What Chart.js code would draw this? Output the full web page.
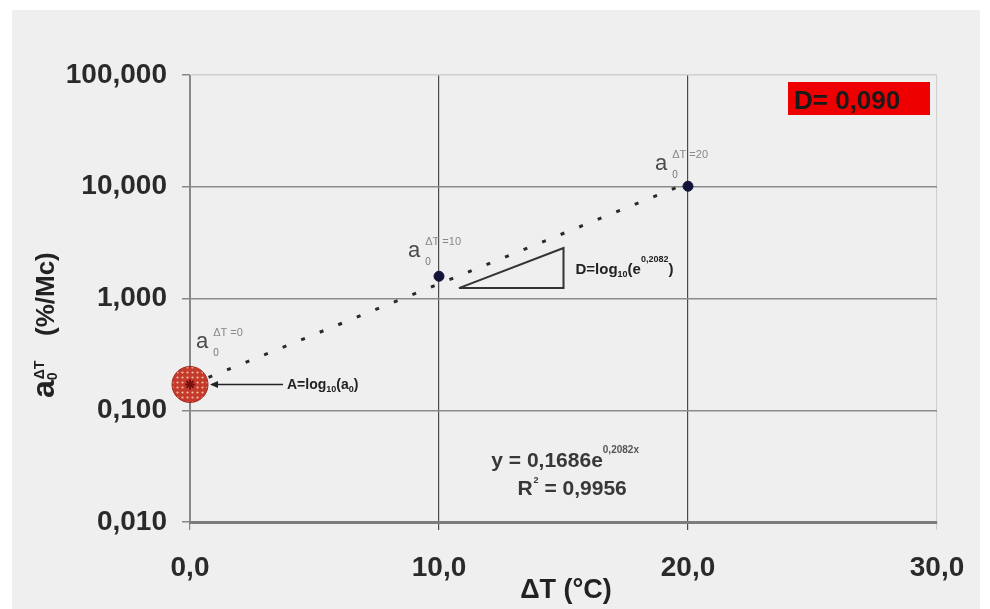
<!DOCTYPE html>
<html>
<head>
<meta charset="utf-8">
<script src="https://cdn.jsdelivr.net/npm/chart.js@4"></script>
<style>
  html, body { margin: 0; padding: 0; background: #fff; }
</style>
</head>
<body>
<canvas id="chart" width="990" height="609"></canvas>
<script>
// data
const deltaT = [0, 10, 20];
const a0Values = [0.17, 1.58, 10.1];
const a0Names = ['0', '10', '20'];
const trendX = [0, 20];
const trendY = [0.1686, 10.84];
const triangleX = [10.8, 15, 15, 10.8];
const triangleY = [1.24, 2.83, 1.24, 1.24];
const xTicks = [0, 10, 20, 30];
const yTicks = [0.01, 0.1, 1, 10, 100];
const eqCoef = '0,1686';
const eqExp = '0,2082';
const rSquared = '0,9956';
const dValue = '0,090';

const FONT = '"Liberation Sans", Arial, sans-serif';

// red dotted fill of the big marker
function makePattern() {
    const c = document.createElement('canvas');
    c.width = 5; c.height = 5;
    const g = c.getContext('2d');
    g.fillStyle = '#c43a2c';
    g.fillRect(0, 0, 5, 5);
    g.fillStyle = '#f0c0a0';
    g.beginPath();
    g.arc(2.5, 2.5, 1.1, 0, Math.PI * 2);
    g.fill();
    return g.createPattern(c, 'repeat');
}

function txt(ctx, s, x, y, font, color, align) {
    ctx.font = font;
    ctx.fillStyle = color;
    ctx.textAlign = align || 'left';
    ctx.textBaseline = 'alphabetic';
    ctx.fillText(s, x, y);
    return ctx.measureText(s).width;
}

const backgroundPlugin = {
    id: 'bg',
    beforeDraw(chart) {
        const ctx = chart.ctx;
        ctx.save();
        ctx.fillStyle = '#ffffff';
        ctx.fillRect(0, 0, chart.width, chart.height);
        ctx.fillStyle = '#efefef';
        ctx.fillRect(12, 10, 968, 599);
        ctx.restore();
    }
};

const notesPlugin = {
    id: 'notes',
    afterDraw(chart) {
        const ctx = chart.ctx;
        const xs = chart.scales.x, ys = chart.scales.y;
        const area = chart.chartArea;
        ctx.save();

        // a0 labels next to each point
        const offs = [[6, -36], [-31, -19], [-33, -16]];
        deltaT.forEach((t, i) => {
            const px = xs.getPixelForValue(t) + offs[i][0];
            const py = ys.getPixelForValue(a0Values[i]) + offs[i][1];
            const w = txt(ctx, 'a', px, py, '22px "Liberation Sans Narrow", ' + FONT, '#4a4a4a');
            txt(ctx, '0', px + w + 5, py + 8, '10px ' + FONT, '#777');
            txt(ctx, '\u0394T =' + a0Names[i], px + w + 5, py - 12, '11px ' + FONT, '#888');
        });

        // A = log10(a0) with arrow
        const p0x = xs.getPixelForValue(deltaT[0]);
        const p0y = ys.getPixelForValue(a0Values[0]);
        const lx = p0x + 97, ly = p0y + 5;
        ctx.strokeStyle = '#222';
        ctx.lineWidth = 1.5;
        ctx.beginPath();
        ctx.moveTo(lx - 4, p0y);
        ctx.lineTo(p0x + 22, p0y);
        ctx.stroke();
        ctx.fillStyle = '#222';
        ctx.beginPath();
        ctx.moveTo(p0x + 20, p0y);
        ctx.lineTo(p0x + 28, p0y - 3.5);
        ctx.lineTo(p0x + 28, p0y + 3.5);
        ctx.closePath();
        ctx.fill();
        let w = txt(ctx, 'A=log', lx, ly, 'bold 14px ' + FONT, '#222');
        w += txt(ctx, '10', lx + w, ly + 3, 'bold 9px ' + FONT, '#222');
        w += txt(ctx, '(a', lx + w, ly, 'bold 14px ' + FONT, '#222');
        w += txt(ctx, '0', lx + w, ly + 3, 'bold 9px ' + FONT, '#222');
        txt(ctx, ')', lx + w, ly, 'bold 14px ' + FONT, '#222');

        // D = log10(e^0.2082) next to the triangle
        const tx = xs.getPixelForValue(triangleX[1]) + 12;
        const ty = ys.getPixelForValue(triangleY[1]) + 26;
        w = txt(ctx, 'D=log', tx, ty, 'bold 15px ' + FONT, '#222');
        w += txt(ctx, '10', tx + w, ty + 3, 'bold 9px ' + FONT, '#222');
        w += txt(ctx, '(e', tx + w, ty, 'bold 15px ' + FONT, '#222');
        w += txt(ctx, eqExp, tx + w, ty - 12, 'bold 9px ' + FONT, '#222');
        txt(ctx, ')', tx + w, ty, 'bold 15px ' + FONT, '#222');

        // regression equation
        const ex = xs.getPixelForValue(12.1), ey = ys.getPixelForValue(0.0357) + 7;
        w = txt(ctx, 'y = ' + eqCoef + 'e', ex, ey, 'bold 21px ' + FONT, '#383838');
        txt(ctx, eqExp + 'x', ex + w, ey - 14, 'bold 10px ' + FONT, '#555');
        const rx = xs.getPixelForValue(13.15), ry = ey + 28;
        w = txt(ctx, 'R', rx, ry, 'bold 21px ' + FONT, '#383838');
        txt(ctx, '2', rx + w + 1, ry - 12, 'bold 9px ' + FONT, '#383838');
        txt(ctx, ' = ' + rSquared, rx + w + 6, ry, 'bold 21px ' + FONT, '#383838');

        // red D box
        ctx.fillStyle = '#ee0000';
        ctx.fillRect(area.right - 149, area.top + 7, 142, 33);
        txt(ctx, 'D= ' + dValue, area.right - 143, area.top + 34, 'bold 26px ' + FONT, '#1a1a1a');

        // axis titles
        txt(ctx, '\u0394T (\u00b0C)', 566, 598, 'bold 27px ' + FONT, '#222', 'center');
        ctx.translate(54, 398);
        ctx.rotate(-Math.PI / 2);
        w = txt(ctx, 'a', 0, 0, 'bold 32px ' + FONT, '#222');
        txt(ctx, '0', w, 3, 'bold 14px ' + FONT, '#222');
        txt(ctx, '\u0394T', w + 1, -10, 'bold 14px ' + FONT, '#222');
        txt(ctx, '(%/Mc)', 62, 0, 'bold 26px ' + FONT, '#222');

        ctx.restore();
    }
};

const ctx = document.getElementById('chart').getContext('2d');
const dotPattern = makePattern();

new Chart(ctx, {
    type: 'scatter',
    data: {
        datasets: [
            {
                label: 'trend',
                data: trendX.map((x, i) => ({ x, y: trendY[i] })),
                showLine: true,
                borderColor: '#2a2a2a',
                borderWidth: 3,
                borderDash: [4, 16],
                pointRadius: 0,
                order: 4
            },
            {
                label: 'triangle',
                data: triangleX.map((x, i) => ({ x, y: triangleY[i] })),
                showLine: true,
                borderColor: '#333',
                borderWidth: 2,
                pointRadius: 0,
                order: 3
            },
            {
                label: 'a0',
                data: deltaT.slice(1).map((x, i) => ({ x, y: a0Values[i + 1] })),
                pointRadius: 5,
                backgroundColor: '#14143a',
                borderColor: '#14143a',
                order: 2
            },
            {
                label: 'a0 at 0',
                data: [{ x: deltaT[0], y: a0Values[0] }],
                pointRadius: 18,
                backgroundColor: dotPattern,
                borderColor: '#a0261c',
                borderWidth: 1,
                clip: false,
                order: 1
            },
            {
                label: 'a0 at 0 centre',
                data: [{ x: deltaT[0], y: a0Values[0] }],
                pointStyle: 'star',
                pointRadius: 5,
                backgroundColor: '#7a0d0d',
                borderColor: '#7a0d0d',
                borderWidth: 2,
                clip: false,
                order: 0
            }
        ]
    },
    options: {
        responsive: false,
        animation: false,
        layout: { padding: { top: 75, right: 53, bottom: 0, left: 0 } },
        plugins: { legend: { display: false }, tooltip: { enabled: false } },
        scales: {
            x: {
                type: 'linear',
                min: 0,
                max: 30,
                afterBuildTicks: s => { s.ticks = xTicks.map(v => ({ value: v })); },
                afterFit: s => { s.height = 87; },
                ticks: {
                    padding: 21,
                    color: '#2a2a2a',
                    font: { family: FONT, size: 28, weight: 'bold' },
                    callback: v => v.toFixed(1).replace('.', ',')
                },
                grid: {
                    color: c => c.tick.value === 30 ? '#d0d0d0' : (c.tick.value === 0 ? '#888' : '#4a4a4a'),
                    lineWidth: 1.2,
                    tickLength: 8
                },
                border: { color: '#7c7c7c', width: 3 }
            },
            y: {
                type: 'logarithmic',
                min: 0.01,
                max: 100,
                afterBuildTicks: s => { s.ticks = yTicks.map(v => ({ value: v })); },
                afterFit: s => { s.width = 190; },
                ticks: {
                    padding: 15,
                    color: '#2a2a2a',
                    font: { family: FONT, size: 28, weight: 'bold' },
                    callback: v => Number(v).toFixed(3).replace('.', ',')
                },
                grid: {
                    color: c => c.tick.value === 100 ? '#d0d0d0' : '#8c8c8c',
                    tickColor: '#888',
                    lineWidth: 1.5,
                    tickLength: 8
                },
                border: { color: '#8a8a8a', width: 1 }
            }
        }
    },
    plugins: [backgroundPlugin, notesPlugin]
});
</script>
</body>
</html>
